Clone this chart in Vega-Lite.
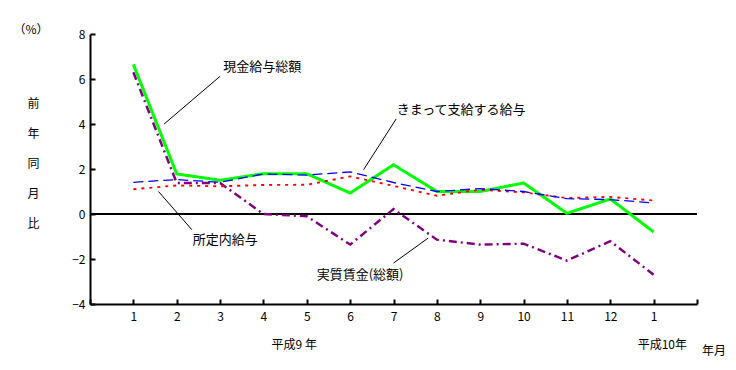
{
  "$schema": "https://vega.github.io/schema/vega-lite/v6.json",
  "autosize": {"type": "none"},
  "padding": {"left": 90, "top": 34, "right": 39, "bottom": 66},
  "width": 607,
  "height": 270,
  "background": "white",
  "config": {"view": {"stroke": null}, "font": "Noto Sans CJK JP"},
  "datasets": {
    "series": [
      {"m": 1, "s": "現金給与総額", "v": 6.65},
      {"m": 2, "s": "現金給与総額", "v": 1.78},
      {"m": 3, "s": "現金給与総額", "v": 1.5},
      {"m": 4, "s": "現金給与総額", "v": 1.79},
      {"m": 5, "s": "現金給与総額", "v": 1.79},
      {"m": 6, "s": "現金給与総額", "v": 0.93},
      {"m": 7, "s": "現金給与総額", "v": 2.19},
      {"m": 8, "s": "現金給与総額", "v": 1.0},
      {"m": 9, "s": "現金給与総額", "v": 1.0},
      {"m": 10, "s": "現金給与総額", "v": 1.38},
      {"m": 11, "s": "現金給与総額", "v": 0.03},
      {"m": 12, "s": "現金給与総額", "v": 0.67},
      {"m": 13, "s": "現金給与総額", "v": -0.8},
      {"m": 1, "s": "実質賃金(総額)", "v": 6.3},
      {"m": 2, "s": "実質賃金(総額)", "v": 1.38},
      {"m": 3, "s": "実質賃金(総額)", "v": 1.38},
      {"m": 4, "s": "実質賃金(総額)", "v": 0.0},
      {"m": 5, "s": "実質賃金(総額)", "v": -0.1},
      {"m": 6, "s": "実質賃金(総額)", "v": -1.36},
      {"m": 7, "s": "実質賃金(総額)", "v": 0.22},
      {"m": 8, "s": "実質賃金(総額)", "v": -1.14},
      {"m": 9, "s": "実質賃金(総額)", "v": -1.36},
      {"m": 10, "s": "実質賃金(総額)", "v": -1.32},
      {"m": 11, "s": "実質賃金(総額)", "v": -2.07},
      {"m": 12, "s": "実質賃金(総額)", "v": -1.21},
      {"m": 13, "s": "実質賃金(総額)", "v": -2.7},
      {"m": 1, "s": "所定内給与", "v": 1.1},
      {"m": 2, "s": "所定内給与", "v": 1.27},
      {"m": 3, "s": "所定内給与", "v": 1.23},
      {"m": 4, "s": "所定内給与", "v": 1.29},
      {"m": 5, "s": "所定内給与", "v": 1.3},
      {"m": 6, "s": "所定内給与", "v": 1.67},
      {"m": 7, "s": "所定内給与", "v": 1.25},
      {"m": 8, "s": "所定内給与", "v": 0.81},
      {"m": 9, "s": "所定内給与", "v": 1.08},
      {"m": 10, "s": "所定内給与", "v": 0.96},
      {"m": 11, "s": "所定内給与", "v": 0.71},
      {"m": 12, "s": "所定内給与", "v": 0.76},
      {"m": 13, "s": "所定内給与", "v": 0.6},
      {"m": 1, "s": "きまって支給する給与", "v": 1.41},
      {"m": 2, "s": "きまって支給する給与", "v": 1.53},
      {"m": 3, "s": "きまって支給する給与", "v": 1.41},
      {"m": 4, "s": "きまって支給する給与", "v": 1.78},
      {"m": 5, "s": "きまって支給する給与", "v": 1.73},
      {"m": 6, "s": "きまって支給する給与", "v": 1.87},
      {"m": 7, "s": "きまって支給する給与", "v": 1.4},
      {"m": 8, "s": "きまって支給する給与", "v": 1.0},
      {"m": 9, "s": "きまって支給する給与", "v": 1.13},
      {"m": 10, "s": "きまって支給する給与", "v": 1.0},
      {"m": 11, "s": "きまって支給する給与", "v": 0.68},
      {"m": 12, "s": "きまって支給する給与", "v": 0.64},
      {"m": 13, "s": "きまって支給する給与", "v": 0.49}
    ],
    "leaders": [
      {"x": 3.0, "y": 6.12, "x2": 1.71, "y2": 4.0},
      {"x": 7.06, "y": 4.22, "x2": 6.31, "y2": 1.97},
      {"x": 1.58, "y": 1.0, "x2": 2.35, "y2": -0.7},
      {"x": 7.0, "y": -2.18, "x2": 7.8, "y2": -1.07}
    ],
    "labels": [
      {"x": 3.97, "y": 6.53, "t": "現金給与総額", "f": 13},
      {"x": 8.56, "y": 4.64, "t": "きまって支給する給与", "f": 13},
      {"x": 3.12, "y": -1.17, "t": "所定内給与", "f": 13},
      {"x": 6.23, "y": -2.7, "t": "実質賃金(総額)", "f": 13},
      {"x": 4.71, "y": -5.84, "t": "平成9 年", "f": 12},
      {"x": 13.2, "y": -5.84, "t": "平成10年", "f": 12},
      {"x": 14.39, "y": -6.1, "t": "年月", "f": 12},
      {"x": -1.36, "y": 8.19, "t": "（%）", "f": 12}
    ]
  },
  "layer": [
    {
      "data": {"values": [{"z": 0}]},
      "mark": {"type": "rule", "color": "black", "strokeWidth": 2},
      "encoding": {
        "y": {"field": "z", "type": "quantitative", "scale": {"domain": [-4, 8], "nice": false}}
      }
    },
    {
      "data": {"name": "series"},
      "mark": {"type": "line"},
      "encoding": {
        "x": {
          "field": "m", "type": "quantitative",
          "scale": {"domain": [0, 14], "nice": false, "zero": false},
          "axis": {
            "values": [0, 1, 2, 3, 4, 5, 6, 7, 8, 9, 10, 11, 12, 13, 14],
            "labelExpr": "datum.value >= 1 && datum.value <= 12 ? datum.value + '' : (datum.value == 13 ? '1' : '')",
            "grid": false, "title": null,
            "domainColor": "black", "domainWidth": 2,
            "tickColor": "black", "tickWidth": 2, "tickSize": -5,
            "labelFont": "Noto Sans CJK JP", "labelFontSize": 12, "labelColor": "black",
            "labelPadding": 12, "labelFlush": false, "labelOverlap": false
          }
        },
        "y": {
          "field": "v", "type": "quantitative",
          "scale": {"domain": [-4, 8], "nice": false},
          "axis": {
            "values": [-4, -2, 0, 2, 4, 6, 8],
            "grid": false,
            "domainColor": "black", "domainWidth": 2,
            "tickColor": "black", "tickWidth": 2, "tickSize": -5,
            "labelFont": "Noto Sans CJK JP", "labelFontSize": 12, "labelColor": "black",
            "labelPadding": 10, "labelFlush": false,
            "title": ["前", "年", "同", "月", "比"],
            "titleAngle": 0, "titleX": -57, "titleY": 64,
            "titleAlign": "center", "titleBaseline": "top",
            "titleLineHeight": 30, "titleFontSize": 12, "titleFontWeight": "normal",
            "titleFont": "Noto Sans CJK JP", "titleColor": "black"
          }
        },
        "color": {
          "field": "s", "type": "nominal", "legend": null,
          "scale": {
            "domain": ["現金給与総額", "実質賃金(総額)", "所定内給与", "きまって支給する給与"],
            "range": ["#00FF00", "#800080", "#FF0000", "#0000FF"]
          }
        },
        "strokeWidth": {
          "field": "s", "type": "nominal", "legend": null,
          "scale": {
            "domain": ["現金給与総額", "実質賃金(総額)", "所定内給与", "きまって支給する給与"],
            "range": [3, 1.3, 2, 2]
          }
        },
        "strokeDash": {
          "field": "s", "type": "nominal", "legend": null,
          "scale": {
            "domain": ["現金給与総額", "実質賃金(総額)", "所定内給与", "きまって支給する給与"],
            "range": [[1, 0], [8, 4, 2, 4], [3, 5], [10, 5]]
          }
        },
        "order": {"field": "m", "type": "quantitative"}
      }
    },
    {
      "data": {"name": "leaders"},
      "mark": {"type": "rule", "color": "black", "strokeWidth": 1},
      "encoding": {
        "x": {"field": "x", "type": "quantitative", "scale": {"domain": [0, 14], "nice": false, "zero": false}},
        "y": {"field": "y", "type": "quantitative", "scale": {"domain": [-4, 8], "nice": false}},
        "x2": {"field": "x2"},
        "y2": {"field": "y2"}
      }
    },
    {
      "data": {"name": "labels"},
      "mark": {"type": "text", "font": "Noto Sans CJK JP", "color": "black", "align": "center", "baseline": "middle"},
      "encoding": {
        "x": {"field": "x", "type": "quantitative", "scale": {"domain": [0, 14], "nice": false, "zero": false}},
        "y": {"field": "y", "type": "quantitative", "scale": {"domain": [-4, 8], "nice": false}},
        "text": {"field": "t"},
        "size": {"field": "f", "type": "quantitative", "scale": null, "legend": null}
      }
    }
  ]
}
